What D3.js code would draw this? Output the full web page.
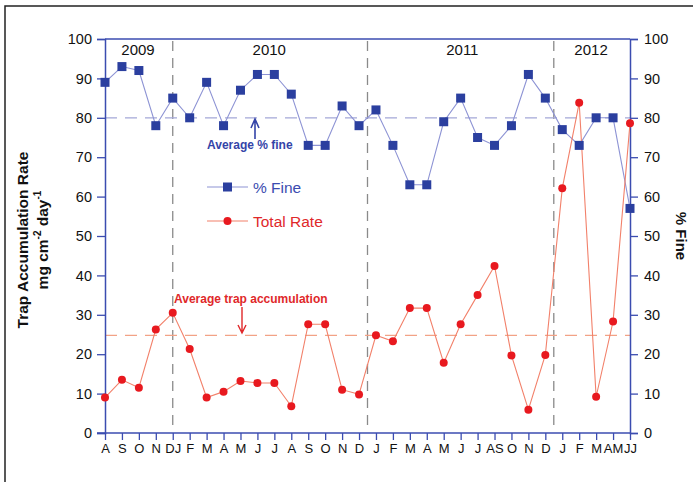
<!DOCTYPE html>
<html><head><meta charset="utf-8">
<script src="https://cdn.jsdelivr.net/npm/d3@7"></script>
<style>body{margin:0;background:#fff}svg{display:block;font-family:"Liberation Sans",Arial,sans-serif}</style>
</head><body>
<svg id="c" width="693" height="482"></svg>
<script>
const monthLabels = ["A","S","O","N","DJ","F","M","A","M","J","J","A","S","O","N","D","J","F","M","A","M","J","J","AS","O","N","D","J","F","M","AM","JJ"];
const fineValues = [89,93,92,78,85,80,89,78,87,91,91,86,73,73,83,78,82,73,63,63,79,85,75,73,78,91,85,77,73,80,80,57];
const rateValues = [9,13.5,11.5,26.3,30.5,21.3,9,10.5,13.2,12.7,12.7,6.8,27.6,27.6,11,9.8,24.8,23.3,31.7,31.7,17.8,27.6,35,42.4,19.7,5.9,19.8,62.1,83.8,9.2,28.3,78.6];
const yearLabels = ["2009","2010","2011","2012"];
const yearCenters = [1.95, 9.7, 21.1, 28.7];
const yearDividers = [4, 15.5, 26.5];
const avgFine = 80;
const avgRate = 24.8;
const yTicks = [0,10,20,30,40,50,60,70,80,90,100];

const svg = d3.select("#c");
const L = 105, R = 630, T = 39, B = 433;
const x = d3.scaleLinear().domain([0, monthLabels.length - 1]).range([L, R]);
const y = d3.scaleLinear().domain([0, 100]).range([B, T]);
const axisCol = "#3b4cb0";
const blue = "#2b3f9f", blueLine = "#8d93d4";
const red = "#e8191f", redLine = "#f2806a";

// outer border (top and left)
svg.append("path").attr("d","M5,482 L5,6 L693,6").attr("fill","none").attr("stroke","#222").attr("stroke-width",1.5);

// year dividers
yearDividers.forEach(d => {
  svg.append("line").attr("x1", x(d)).attr("x2", x(d)).attr("y1", T + 2).attr("y2", B - 6)
    .attr("stroke", "#8a8a8a").attr("stroke-width", 1.3).attr("stroke-dasharray", "10,7");
});

// averages
svg.append("line").attr("x1", L).attr("x2", R).attr("y1", y(avgFine)).attr("y2", y(avgFine))
  .attr("stroke", "#a4a8d8").attr("stroke-width", 1.3).attr("stroke-dasharray", "12,8");
svg.append("line").attr("x1", L).attr("x2", R).attr("y1", y(avgRate)).attr("y2", y(avgRate))
  .attr("stroke", "#f2a286").attr("stroke-width", 1.3).attr("stroke-dasharray", "12,8");

// year labels
yearLabels.forEach((t, i) => {
  svg.append("text").attr("x", x(yearCenters[i])).attr("y", 55).attr("text-anchor", "middle")
    .attr("font-size", 15).attr("fill", "#111").text(t);
});

// axes
const gl = svg.append("g").attr("transform", `translate(${L},0)`)
  .call(d3.axisLeft(y).tickValues(yTicks).tickSize(8).tickPadding(5));
const gr = svg.append("g").attr("transform", `translate(${R},0)`)
  .call(d3.axisRight(y).tickValues(yTicks).tickSize(8).tickPadding(6));
const gb = svg.append("g").attr("transform", `translate(0,${B})`)
  .call(d3.axisBottom(x).tickValues(d3.range(monthLabels.length)).tickFormat(i => monthLabels[i]).tickSize(7).tickPadding(4));
[gl, gr, gb].forEach(g => {
  g.select(".domain").attr("stroke", axisCol).attr("stroke-width", 1.5);
  g.selectAll(".tick line").attr("stroke", axisCol).attr("stroke-width", 1.3);
  g.selectAll(".tick text").attr("fill", "#111").attr("font-size", 14.5).attr("font-family", "Liberation Sans, Arial, sans-serif");
});
gb.selectAll(".tick text").attr("font-size", 13);
gb.select(".domain").attr("d", `M${L - 8},0H${R}`);
svg.append("line").attr("x1", L).attr("x2", R).attr("y1", T).attr("y2", T).attr("stroke", axisCol).attr("stroke-width", 1.5);

// lines
const lineGen = v => d3.line().x((d, i) => x(i)).y(d => y(d))(v);
svg.append("path").attr("d", lineGen(fineValues)).attr("fill", "none").attr("stroke", blueLine).attr("stroke-width", 1.1);
svg.append("path").attr("d", lineGen(rateValues)).attr("fill", "none").attr("stroke", redLine).attr("stroke-width", 1.1);

// markers
svg.append("g").selectAll("rect").data(fineValues).join("rect")
  .attr("x", (d, i) => x(i) - 4.5).attr("y", d => y(d) - 4.5).attr("width", 9).attr("height", 9).attr("fill", blue);
svg.append("g").selectAll("circle").data(rateValues).join("circle")
  .attr("cx", (d, i) => x(i)).attr("cy", d => y(d)).attr("r", 4).attr("fill", red);

// legend
const lg = svg.append("g");
lg.append("line").attr("x1", 207).attr("x2", 248).attr("y1", 187).attr("y2", 187).attr("stroke", blueLine).attr("stroke-width", 1.1);
lg.append("rect").attr("x", 223).attr("y", 182.5).attr("width", 9).attr("height", 9).attr("fill", blue);
lg.append("text").attr("x", 253).attr("y", 192.5).attr("font-size", 15.5).attr("fill", "#3b4cb0").text("% Fine");
lg.append("line").attr("x1", 207).attr("x2", 248).attr("y1", 221).attr("y2", 221).attr("stroke", redLine).attr("stroke-width", 1.1);
lg.append("circle").attr("cx", 227.5).attr("cy", 221).attr("r", 4).attr("fill", red);
lg.append("text").attr("x", 253).attr("y", 226.5).attr("font-size", 15.5).attr("fill", "#e0282a").text("Total Rate");

// annotations
svg.append("text").attr("x", 207).attr("y", 149).attr("font-size", 12).attr("font-weight", "bold").attr("fill", "#3444a8").text("Average % fine");
svg.append("path").attr("d", "M255,139 L255,120 M251,128 L255,119 L259,128").attr("fill", "none").attr("stroke", "#3444a8").attr("stroke-width", 1.6);
svg.append("text").attr("x", 174).attr("y", 303).attr("font-size", 12).attr("font-weight", "bold").attr("fill", "#e0282a").text("Average trap accumulation");
svg.append("path").attr("d", "M242,307 L242,333 M238,325 L242,333 L246,325").attr("fill", "none").attr("stroke", "#e0282a").attr("stroke-width", 1.4);

// axis titles
svg.append("text").attr("transform", "translate(28,240) rotate(-90)").attr("text-anchor", "middle")
  .attr("font-size", 15.5).attr("font-weight", "bold").attr("fill", "#111").text("Trap Accumulation Rate");
const lt2 = svg.append("text").attr("transform", "translate(48,240) rotate(-90)").attr("text-anchor", "middle")
  .attr("font-size", 15.5).attr("font-weight", "bold").attr("fill", "#111");
lt2.append("tspan").text("mg cm");
lt2.append("tspan").attr("dy", -7).attr("font-size", 10).text("-2");
lt2.append("tspan").attr("dy", 7).text(" day");
lt2.append("tspan").attr("dy", -7).attr("font-size", 10).text("-1");
svg.append("text").attr("transform", "translate(676,236) rotate(90)").attr("text-anchor", "middle")
  .attr("font-size", 15).attr("font-weight", "bold").attr("fill", "#111").text("% Fine");
</script>
</body></html>
